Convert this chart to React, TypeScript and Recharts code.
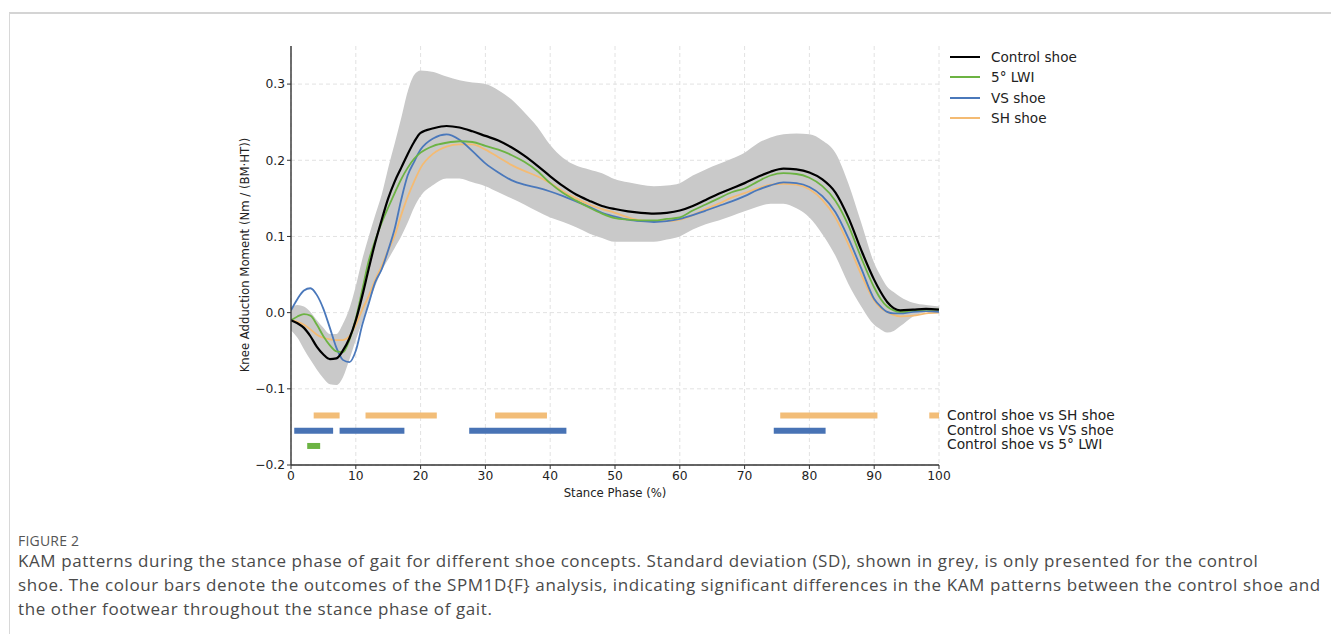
import React from 'react';
import { ComposedChart, Line, Area, XAxis, YAxis, CartesianGrid } from 'recharts';

const stancePct = [0,1,2,3,4,5,6,7,8,9,10,11,12,13,14,15,16,17,18,19,20,22,24,26,28,30,32,34,36,38,40,42,44,46,48,50,52,54,56,58,60,62,64,66,68,70,72,74,76,78,80,82,84,86,88,90,91,92,93,94,96,98,100];

const controlKam = [-0.010,-0.014,-0.020,-0.031,-0.045,-0.055,-0.061,-0.060,-0.050,-0.034,-0.010,0.022,0.058,0.092,0.122,0.150,0.172,0.190,0.208,0.224,0.236,0.242,0.245,0.243,0.238,0.232,0.226,0.217,0.206,0.193,0.179,0.166,0.155,0.147,0.140,0.136,0.133,0.131,0.130,0.131,0.134,0.140,0.148,0.156,0.163,0.170,0.178,0.185,0.189,0.188,0.184,0.175,0.158,0.125,0.082,0.043,0.027,0.014,0.006,0.003,0.004,0.005,0.004];

const lwiKam = [-0.010,-0.005,-0.002,-0.004,-0.016,-0.031,-0.043,-0.051,-0.052,-0.036,-0.008,0.030,0.068,0.095,0.118,0.138,0.157,0.175,0.190,0.202,0.210,0.219,0.223,0.225,0.224,0.219,0.214,0.207,0.198,0.186,0.170,0.157,0.147,0.138,0.130,0.124,0.122,0.121,0.121,0.123,0.125,0.134,0.142,0.150,0.158,0.163,0.172,0.180,0.183,0.182,0.177,0.166,0.147,0.115,0.072,0.033,0.018,0.008,0.003,0.001,0.003,0.004,0.004];

const vsKam = [0.003,0.018,0.029,0.032,0.023,0.005,-0.020,-0.046,-0.062,-0.065,-0.050,-0.016,0.012,0.040,0.057,0.082,0.110,0.148,0.180,0.198,0.214,0.229,0.234,0.227,0.212,0.196,0.184,0.174,0.168,0.164,0.159,0.153,0.146,0.139,0.131,0.126,0.122,0.120,0.119,0.120,0.123,0.128,0.134,0.140,0.146,0.153,0.161,0.167,0.171,0.170,0.165,0.153,0.132,0.098,0.058,0.018,0.008,0.001,-0.001,-0.001,0.001,0.002,0.001];

const shKam = [-0.010,-0.012,-0.016,-0.022,-0.029,-0.033,-0.035,-0.036,-0.036,-0.031,-0.016,0.004,0.022,0.043,0.061,0.082,0.101,0.128,0.152,0.172,0.190,0.209,0.218,0.221,0.221,0.214,0.204,0.194,0.186,0.179,0.170,0.159,0.150,0.142,0.136,0.131,0.125,0.121,0.120,0.120,0.122,0.128,0.136,0.143,0.151,0.157,0.163,0.168,0.169,0.168,0.162,0.148,0.125,0.090,0.050,0.016,0.006,0.001,-0.003,-0.005,-0.004,-0.001,0.000];

const sdLower = [-0.023,-0.033,-0.048,-0.062,-0.075,-0.086,-0.094,-0.095,-0.085,-0.062,-0.036,-0.012,0.012,0.035,0.055,0.070,0.085,0.100,0.118,0.138,0.153,0.168,0.176,0.176,0.171,0.166,0.158,0.150,0.142,0.133,0.125,0.119,0.112,0.104,0.098,0.093,0.093,0.093,0.093,0.096,0.100,0.109,0.116,0.121,0.127,0.133,0.139,0.143,0.143,0.137,0.125,0.103,0.075,0.038,0.008,-0.016,-0.022,-0.026,-0.024,-0.018,-0.005,0.001,0.003];

const sdUpper = [0.007,0.010,0.008,0.001,-0.010,-0.020,-0.028,-0.028,-0.015,0.005,0.035,0.070,0.100,0.128,0.155,0.190,0.222,0.255,0.290,0.312,0.318,0.316,0.310,0.305,0.302,0.300,0.292,0.280,0.263,0.244,0.220,0.203,0.193,0.188,0.183,0.175,0.171,0.168,0.166,0.167,0.170,0.180,0.188,0.195,0.202,0.210,0.222,0.230,0.234,0.235,0.234,0.226,0.210,0.170,0.118,0.065,0.048,0.034,0.027,0.021,0.013,0.010,0.008];

const seriesNames = ['Control shoe', '5° LWI', 'VS shoe', 'SH shoe'];
const seriesColors = ['#000000', '#6cb343', '#4a78bb', '#f4bb73'];

const comparisonNames = ['Control shoe vs SH shoe', 'Control shoe vs VS shoe', 'Control shoe vs 5° LWI'];
const comparisonColors = ['#f2bd78', '#4873b5', '#6cb343'];
const comparisonLevels = [-0.135, -0.155, -0.175];
const shSegments = [[3.5, 7.5], [11.5, 22.5], [31.5, 39.5], [75.5, 90.5], [98.5, 100]];
const vsSegments = [[0.5, 6.5], [7.5, 17.5], [27.5, 42.5], [74.5, 82.5]];
const lwiSegments = [[2.5, 4.5]];

const xTicks = [0, 10, 20, 30, 40, 50, 60, 70, 80, 90, 100];
const yTicks = [-0.2, -0.1, 0, 0.1, 0.2, 0.3];

const rows = stancePct.map((x, i) => ({
  x,
  control: controlKam[i],
  lwi: lwiKam[i],
  vs: vsKam[i],
  sh: shKam[i],
  band: [sdLower[i], sdUpper[i]],
}));

const segmentGroups = [shSegments, vsSegments, lwiSegments];

const FONT = '"DejaVu Sans", sans-serif';

const fmtY = (v: number) => v.toFixed(1).replace('-', '\u2212');

export default function App() {
  return (
    <div style={{ position: 'absolute', left: 0, top: 0, width: 1331, height: 634, background: '#fff', overflow: 'hidden' }}>
      <div style={{ position: 'absolute', left: 9, top: 12, width: 1400, height: 700, borderTop: '2px solid #d4d4d4', borderLeft: '1px solid #d8d8d8' }} />
      <div style={{ position: 'absolute', left: 0, top: 0 }}>
        <ComposedChart width={1331} height={634} data={rows} margin={{ top: 46, right: 392, bottom: 139, left: 231 }}>
          <CartesianGrid stroke="#e2e2e2" strokeDasharray="4 3" horizontalValues={yTicks} verticalValues={xTicks} />
          <XAxis
            dataKey="x"
            type="number"
            domain={[0, 100]}
            ticks={xTicks}
            height={30}
            axisLine={{ stroke: '#333', strokeWidth: 1.4 }}
            tickLine={{ stroke: '#333' }}
            tickSize={4}
            tick={{ fill: '#222', fontSize: 12.3, fontFamily: FONT }}
            allowDataOverflow
          />
          <YAxis
            type="number"
            domain={[-0.2, 0.35]}
            ticks={yTicks}
            width={60}
            axisLine={{ stroke: '#333', strokeWidth: 1.4 }}
            tickLine={{ stroke: '#333' }}
            tickSize={4}
            tickFormatter={fmtY}
            tick={{ fill: '#222', fontSize: 12.3, fontFamily: FONT }}
            allowDataOverflow
          />
          <Area dataKey="band" type="monotone" stroke="none" fill="#c9c9c9" fillOpacity={1} isAnimationActive={false} />
          <Line dataKey="sh" type="monotone" stroke={seriesColors[3]} strokeWidth={1.8} dot={false} isAnimationActive={false} />
          <Line dataKey="vs" type="monotone" stroke={seriesColors[2]} strokeWidth={1.8} dot={false} isAnimationActive={false} />
          <Line dataKey="lwi" type="monotone" stroke={seriesColors[1]} strokeWidth={1.8} dot={false} isAnimationActive={false} />
          <Line dataKey="control" type="monotone" stroke={seriesColors[0]} strokeWidth={2.2} dot={false} isAnimationActive={false} />
          {segmentGroups.map((segs, g) =>
            segs.map((s, k) => (
              <Line
                key={`seg-${g}-${k}`}
                data={[{ x: s[0], y: comparisonLevels[g] }, { x: s[1], y: comparisonLevels[g] }]}
                dataKey="y"
                type="linear"
                stroke={comparisonColors[g]}
                strokeWidth={6}
                strokeLinecap="butt"
                dot={false}
                isAnimationActive={false}
              />
            ))
          )}
        </ComposedChart>
      </div>

      {/* y-axis title */}
      <div style={{ position: 'absolute', left: 245, top: 255, transform: 'translate(-50%, -50%) rotate(-90deg)', whiteSpace: 'nowrap', fontFamily: FONT, fontSize: 11.7, color: '#222' }}>
        Knee Adduction Moment (Nm / (BM·HT))
      </div>
      {/* x-axis title */}
      <div style={{ position: 'absolute', left: 615, top: 493, transform: 'translate(-50%, -50%)', whiteSpace: 'nowrap', fontFamily: FONT, fontSize: 11.7, color: '#222' }}>
        Stance Phase (%)
      </div>

      {/* series legend */}
      {seriesNames.map((n, i) => (
        <div key={n} style={{ position: 'absolute', left: 950, top: 57 + i * 20.4, transform: 'translateY(-50%)', display: 'flex', alignItems: 'center', fontFamily: FONT, fontSize: 13.6, color: '#222', whiteSpace: 'nowrap' }}>
          <div style={{ width: 30, height: i === 0 ? 2.4 : 2, background: seriesColors[i], marginRight: 11 }} />
          <span>{n}</span>
        </div>
      ))}

      {/* comparison legend */}
      {comparisonNames.map((n, i) => (
        <div key={n} style={{ position: 'absolute', left: 947, top: 415 + i * 14.6, transform: 'translateY(-50%)', fontFamily: FONT, fontSize: 13.8, color: '#222', whiteSpace: 'nowrap' }}>
          {n}
        </div>
      ))}

      {/* caption */}
      <div style={{ position: 'absolute', left: 18, top: 531, fontFamily: '"Open Sans", sans-serif', fontSize: 14, color: '#555', letterSpacing: 0.2 }}>
        FIGURE 2
      </div>
      <div style={{ position: 'absolute', left: 18, top: 549, fontFamily: '"Open Sans", sans-serif', fontSize: 17, lineHeight: '24px', color: '#4a4a4a', whiteSpace: 'nowrap', letterSpacing: 0.6 }}>
        <div>KAM patterns during the stance phase of gait for different shoe concepts. Standard deviation (SD), shown in grey, is only presented for the control</div>
        <div>shoe. The colour bars denote the outcomes of the SPM1D{'{'}F{'}'} analysis, indicating significant differences in the KAM patterns between the control shoe and</div>
        <div>the other footwear throughout the stance phase of gait.</div>
      </div>
    </div>
  );
}
